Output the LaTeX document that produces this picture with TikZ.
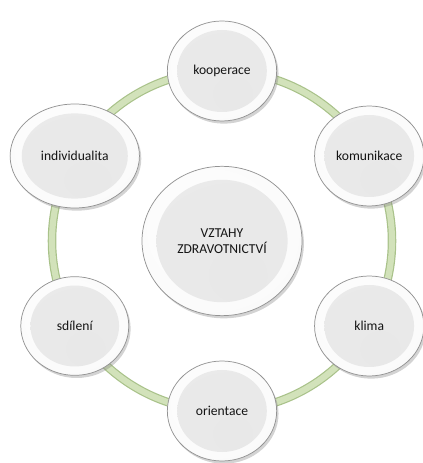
\documentclass[tikz,border=0pt]{standalone}
\usepackage{fontspec}
\setmainfont{Carlito}
\usetikzlibrary{calc,shapes.geometric,shadows}
\definecolor{ring-fill}{HTML}{D2E2BA}
\definecolor{ring-edge}{HTML}{A9C28A}
\colorlet{rim-color}{gray!85}
\colorlet{label-color}{black!92}
\pgfdeclareradialshading{ballrim}{\pgfpoint{-5bp}{6bp}}{%
  color(0bp)=(white); color(30bp)=(gray!4); color(43bp)=(gray!12); color(48bp)=(gray!30); color(50bp)=(gray!55)}
\pgfdeclareradialshading{balldisc}{\pgfpoint{6bp}{-14bp}}{%
  color(0bp)=(gray!18); color(26bp)=(gray!17); color(38bp)=(gray!10); color(46bp)=(gray!3); color(50bp)=(white)}
\tikzset{
  ball/.style = {
    ellipse, inner sep=0pt, draw=rim-color, line width=0.55pt,
    shade, shading=ballrim,
    drop shadow={shadow xshift=1.4pt, shadow yshift=-2pt, opacity=0.35, fill=gray},
    text=label-color, font=\fontsize{10.2}{12}\selectfont, align=center,
    path picture={
      \shade[shading=balldisc]
        let \p1=(path picture bounding box.north east),
            \p2=(path picture bounding box.center) in
        (\p2) ellipse [x radius={0.82*(\x1-\x2)}, y radius={0.82*(\y1-\y2)}];
    }
  },
  ring/.style = {draw=ring-edge, line width=6.4pt},
  ring inner/.style = {draw=ring-fill, line width=4.6pt},
}
\begin{document}
\begin{tikzpicture}[x=0.75pt, y=0.75pt]
\useasboundingbox (0,0) rectangle (422,463);

\coordinate (hub-center) at (222,222);

% green ring behind the balls
\draw[ring] (hub-center) circle[radius=170];
\draw[ring inner] (hub-center) circle[radius=170];

\node (hub) [ball, minimum width=120pt, minimum height=112pt] at (hub-center) {VZTAHY\\ZDRAVOTNICTVÍ};

\foreach \ang/\nm/\txt/\w/\h in {90/koop/kooperace/82/75, 30/komu/komunikace/82/75, -30/klim/klima/82/75,
    -90/orie/orientace/82/75, 210/sdil/sdílení/81/74, 150/indi/individualita/97/78}
  \node (\nm) [ball, minimum width=\w pt, minimum height=\h pt] at ($(hub-center)+(\ang:170)$) {\txt};

\end{tikzpicture}
\end{document}
